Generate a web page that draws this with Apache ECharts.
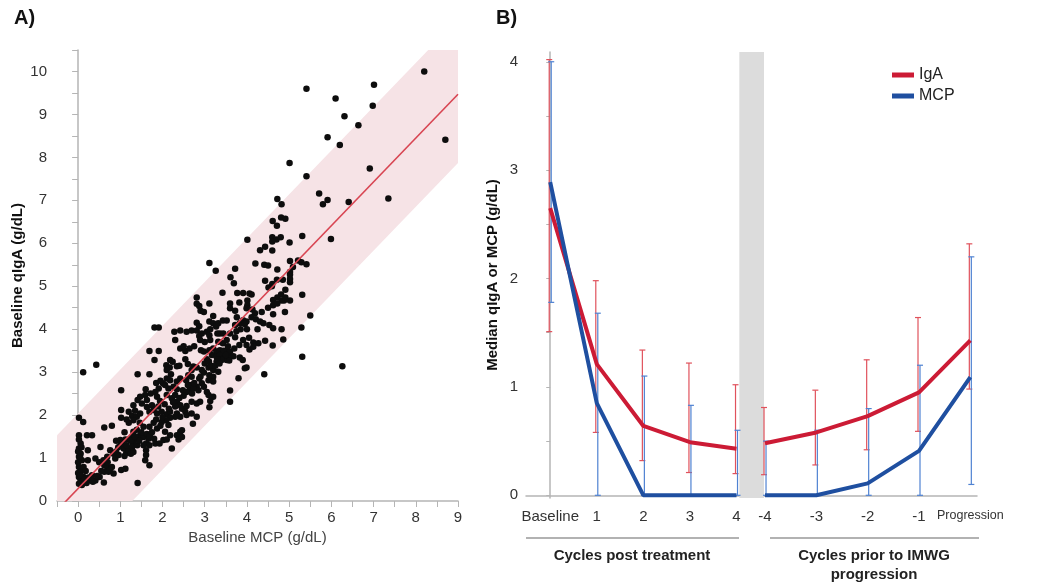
<!DOCTYPE html>
<html><head><meta charset="utf-8">
<script src="https://cdn.jsdelivr.net/npm/echarts@6/dist/echarts.min.js"></script>
<style>html,body{margin:0;padding:0;background:#fff}#c{width:1057px;height:585px}</style>
</head><body><div id="c"></div>
<script>
// Panel A: [baseline MCP, baseline qIgA] pairs (g/dL)
const scatterPoints = [
[8.20,10.0],[5.41,9.6],[7.01,9.69],[6.98,9.2],[6.10,9.37],[6.31,8.96],[6.64,8.75],[5.91,8.47],[6.20,8.29],[8.70,8.41],[5.01,7.87],[6.91,7.74],[5.41,7.56],[5.71,7.16],[5.80,6.91],[5.91,7.01],[6.41,6.96],[7.35,7.04],[5.99,6.10],[4.72,7.03],[4.82,6.91],[4.61,6.52],[4.81,6.60],[4.91,6.57],[4.71,6.41],[4.60,6.14],[4.70,6.09],[4.80,6.14],[4.60,6.04],[5.01,6.02],[5.31,6.17],[4.01,6.08],[4.31,5.84],[4.43,5.92],[4.60,5.83],[3.11,5.54],[3.26,5.36],[4.20,5.53],[4.41,5.50],[4.50,5.48],[4.72,5.39],[5.02,5.59],[5.21,5.60],[5.41,5.51],[5.29,5.56],[5.09,5.45],[5.02,5.33],[5.02,5.27],[5.02,5.17],[3.72,5.41],[3.61,5.21],[3.69,5.07],[4.43,5.13],[4.71,5.15],[4.85,5.15],[5.02,5.09],[4.51,4.97],[4.59,5.00],[4.91,4.92],[4.60,5.05],
[3.42,4.85],[3.77,4.84],[3.91,4.84],[4.06,4.83],[4.11,4.81],[4.81,4.81],[5.31,4.80],[2.81,4.74],[4.01,4.67],[4.72,4.74],[4.88,4.67],[4.62,4.68],[4.82,4.67],[4.91,4.74],[5.02,4.67],
[2.81,4.59],[2.87,4.54],[2.90,4.43],[2.98,4.40],[3.11,4.60],[3.60,4.60],[3.82,4.62],[4.01,4.56],[3.99,4.49],[3.60,4.49],[3.72,4.43],[4.13,4.46],[4.19,4.37],[4.90,4.40],[4.62,4.35],[4.62,4.56],[4.72,4.60],[5.50,4.32],[3.20,4.31],[3.11,4.18],[3.20,4.14],[3.32,4.14],[3.43,4.20],[3.52,4.20],[3.76,4.28],[3.91,4.21],[4.11,4.28],[3.99,4.18],[4.21,4.23],[3.72,4.10],[3.83,4.14],[3.95,4.12],[4.31,4.18],[4.39,4.14],[4.53,4.10],[4.62,4.02],[4.82,4.00],[5.29,4.04],[1.81,4.04],[1.91,4.04],[2.81,4.15],[2.87,4.07],[2.28,3.94],[2.42,3.97],[2.57,3.94],[2.69,3.97],[2.81,3.97],[2.93,3.90],[3.05,3.94],[3.13,4.00],[3.27,4.06],
[2.30,3.75],[2.87,3.84],[2.89,3.75],[3.11,3.86],[3.13,3.75],[3.36,3.90],[3.44,3.90],[3.32,3.71],[3.43,3.67],[3.52,3.75],[3.60,3.90],[3.72,3.81],[3.91,3.75],[3.82,3.63],[3.99,3.63],[4.15,3.69],[4.27,3.67],[4.43,3.73],[4.61,3.62],[4.06,3.53],[4.15,3.59],[4.86,3.76],[2.42,3.55],[2.54,3.49],[2.64,3.55],[2.91,3.51],[2.98,3.48],[3.11,3.51],[3.20,3.55],[3.28,3.48],[3.36,3.51],[3.44,3.45],[3.52,3.50],[3.60,3.48],[3.17,3.40],[3.28,3.36],[3.36,3.40],[3.44,3.32],[3.52,3.28],[3.60,3.36],[3.68,3.37],[3.28,3.24],[3.40,3.28],[3.58,3.27],[3.83,3.34],[3.90,3.28],[3.99,3.11],[3.95,3.09],[1.69,3.49],[1.91,3.49],[1.81,3.28],[2.18,3.28],[2.24,3.24],[2.34,3.14],[2.17,3.11],[2.54,3.30],[2.60,3.19],[2.73,3.13],[2.69,3.05],[2.81,3.11],[2.93,3.05],[2.98,2.99],[3.09,3.11],[3.20,3.05],[3.32,3.01],[2.09,3.16],[2.10,3.05],[1.69,2.95],[1.41,2.95],[0.12,3.00],[0.43,3.17],[4.41,2.95],[5.31,3.36],[6.26,3.14],[3.80,2.86],[3.11,2.93],[3.20,2.89],[3.09,2.81],[3.20,2.78],[2.87,2.85],[2.93,2.74],[2.61,2.93],[2.69,2.89],[2.56,2.81],[2.42,2.85],[2.34,2.78],[2.10,2.85],[2.18,2.81],[2.01,2.74],
[2.81,2.66],[2.85,2.58],[2.98,2.66],[3.05,2.54],[3.09,2.47],[3.20,2.43],[3.13,2.33],[3.11,2.18],[3.60,2.57],[3.60,2.31],[2.65,2.70],[2.64,2.58],[2.73,2.62],[2.48,2.58],[2.57,2.54],[2.26,2.66],[2.34,2.60],[2.14,2.62],[2.06,2.70],[1.91,2.62],[1.83,2.54],[1.72,2.50],[1.59,2.47],[1.47,2.43],[1.63,2.35],[1.02,2.58],[1.87,2.43],[1.94,2.33],[2.10,2.47],[2.22,2.39],[2.30,2.47],[2.34,2.31],[2.42,2.23],[2.46,2.15],[2.57,2.21],[2.54,2.08],[2.69,2.31],[2.81,2.27],[2.89,2.31],[2.34,2.04],[2.42,1.96],[2.30,1.96],[2.57,2.00],[2.69,2.04],[2.81,1.96],[2.72,1.80],[1.41,2.35],[1.31,2.23],[1.51,2.27],[1.63,2.19],[1.75,2.23],[1.69,2.08],[1.79,2.12],[1.87,2.04],[1.98,2.08],[2.10,2.02],[2.18,2.08],[2.18,1.94],[2.09,1.88],[1.98,1.84],[2.14,1.77],[1.02,2.12],[1.02,1.94],[1.20,2.08],[1.28,1.98],[1.39,1.96],[1.47,2.04],[1.20,1.82],[1.31,1.88],[1.46,1.82],[0.80,1.75],[0.62,1.71],[1.79,1.82],[1.69,1.73],[1.87,1.69],[1.55,1.73],[1.39,1.66],[1.31,1.61],[0.02,1.94],[0.12,1.84],
[0.21,1.53],[0.33,1.53],[0.02,1.53],[0.02,1.43],[0.06,1.34],[0.02,1.22],[0.06,1.10],[0.02,1.03],[0.09,0.95],[0.02,0.79],[0.06,0.68],[0.02,0.56],[0.06,0.48],[0.02,0.40],[0.09,0.37],[0.13,0.79],[0.13,0.56],[0.23,1.18],[0.23,0.95],[0.41,0.99],[0.33,0.60],[0.41,0.48],[0.29,0.48],[0.53,1.26],[0.51,0.56],[0.61,0.43],[0.69,1.03],[0.67,0.91],[0.62,0.83],[0.69,0.79],[0.80,0.79],[0.62,0.68],[0.72,0.68],[0.84,0.64],[0.76,1.18],[0.84,1.10],[0.88,0.99],[0.96,1.07],[1.00,1.30],[1.08,1.22],[1.14,1.12],[1.00,1.42],[1.12,1.43],[1.02,0.72],[1.12,0.75],[1.20,1.43],[1.28,1.49],[1.39,1.43],[1.30,1.34],[1.20,1.18],[1.25,1.10],[1.31,1.14],[1.28,1.26],[1.41,0.42],[1.47,1.53],[1.55,1.49],[1.63,1.56],[1.67,1.45],[1.61,1.34],[1.69,1.30],[1.61,1.18],[1.61,1.07],[1.59,0.95],[1.69,0.83],[1.83,1.34],[1.93,1.34],[2.02,1.42],[2.10,1.43],[2.22,1.22],[2.06,1.61],[2.18,1.53],[2.34,1.53],[2.42,1.61],[2.46,1.65],[2.38,1.43],[2.46,1.49],
[0.05,1.00],[0.00,0.90],[0.00,0.65],[0.05,0.60],[0.10,0.45],[0.00,1.15],[0.08,1.25],[0.15,0.50],[0.18,0.70],[0.20,0.42],[0.25,0.55],[0.35,0.45],[0.45,0.58],[0.50,0.90],[0.55,0.70],[0.60,0.95],[0.70,0.90],[0.75,0.72],[0.90,1.15],[0.95,1.25],[1.05,1.35],[1.10,1.05],[1.15,1.30],[1.25,1.40],[1.35,1.50],[1.40,1.30],[1.45,1.40],[1.50,1.60],[1.55,1.30],[1.70,1.50],[1.75,1.60],[1.80,1.45],[1.85,1.90],[1.90,2.20],[1.95,1.75],[2.00,1.95],[2.05,2.25],[2.15,2.15],[2.25,2.30],[2.30,2.20],[2.40,2.40],[2.50,2.45],[2.60,2.70],[2.70,2.50],[2.75,2.75],[2.90,2.90],[3.00,3.20],[3.05,3.30],[3.10,3.25],[3.15,3.15],[3.25,3.15],[3.30,3.30],[3.35,3.20],[3.45,3.50],[3.50,3.40],[3.55,3.60],[3.70,3.55],[3.75,3.95],[3.85,4.00],[4.00,4.00],[4.05,3.80],[4.25,4.00],[4.35,4.40],[4.50,4.50],[3.30,3.90],[3.00,3.70],[2.75,3.60],[2.50,3.60],[2.40,3.15],[2.20,2.95],[1.95,2.80],[1.85,2.75],[1.60,2.60],[1.35,2.10],[1.15,1.90],[1.10,1.60],[0.90,1.40]
];
// Panel A fit line and shaded band
const fitX = [-0.5, 9];
const fitY = [-0.22, 9.47];
const bandLow = [-1.82, 7.87];
const bandHigh = [1.53, 11.22];

// Panel B
const postLabels = ['Baseline','1','2','3','4'];
const postPos = [0,1,2,3,4];
const priorLabels = ['-4','-3','-2','-1','Progression'];
const priorPos = [-4,-3,-2,-1,0];
const igaPost = [2.65,1.21,0.64,0.49,0.43];
const igaPostLow = [1.51,0.58,0.32,0.21,0.20];
const igaPostHigh = [4.02,1.98,1.34,1.22,1.02];
const mcpPost = [2.89,0.85,0,0,0];
const mcpPostLow = [1.78,0,0,0,0];
const mcpPostHigh = [4.00,1.68,1.10,0.83,0.60];
const igaPrior = [0.48,0.58,0.73,0.95,1.43];
const igaPriorLow = [0.19,0.28,0.42,0.59,0.98];
const igaPriorHigh = [0.81,0.97,1.25,1.64,2.32];
const mcpPrior = [0,0,0.11,0.41,1.09];
const mcpPriorLow = [0,0,0,0,0.10];
const mcpPriorHigh = [0.50,0.60,0.80,1.20,2.20];
const yTicksA = [0,1,2,3,4,5,6,7,8,9,10];
const xTicksA = [0,1,2,3,4,5,6,7,8,9];
const yTicksB = [0,1,2,3,4];
const yMinorB = [0,0.5,1,1.5,2,2.5,3,3.5,4];

const FONT = 'Arial, "Liberation Sans", sans-serif';
const RED = '#cc1b35', BLUE = '#1f4fa0', RED_E = '#e0525c', BLUE_E = '#4f82d2';
const AX = '#b5b5b5';

function errSeries(xi, pos, lo, hi, color, dx) {
  return {
    type: 'custom', xAxisIndex: xi, yAxisIndex: xi, z: 2, silent: true,
    data: pos.map((p, i) => [p, lo[i], hi[i]]),
    encode: {x: 0, y: [1, 2]},
    renderItem(params, api) {
      const a = api.coord([api.value(0), api.value(1)]);
      const b = api.coord([api.value(0), api.value(2)]);
      const x = a[0] + dx, w = 3;
      const st = {stroke: color, lineWidth: 1.2};
      return {type: 'group', children: [
        {type: 'line', shape: {x1: x, y1: a[1], x2: x, y2: b[1]}, style: st},
        {type: 'line', shape: {x1: x - w, y1: a[1], x2: x + w, y2: a[1]}, style: st},
        {type: 'line', shape: {x1: x - w, y1: b[1], x2: x + w, y2: b[1]}, style: st}
      ]};
    }
  };
}
function lineSeries(name, xi, pos, vals, color, extra) {
  return Object.assign({
    name, type: 'line', xAxisIndex: xi, yAxisIndex: xi, z: 4,
    data: pos.map((p, i) => [p, vals[i]]),
    symbol: 'none', lineStyle: {color, width: 4}, itemStyle: {color},
    silent: true, animation: false
  }, extra || {});
}

const chart = echarts.init(document.getElementById('c'));
chart.setOption({
  animation: false,
  textStyle: {fontFamily: FONT},
  grid: [
    {left: 57, right: 599, top: 50, bottom: 84},
    {left: 526, right: 293, top: 52, bottom: 87},
    {left: 764, right: 80, top: 52, bottom: 87}
  ],
  xAxis: [
    {gridIndex: 0, type: 'value', min: -0.5, max: 9, interval: 0.5,
     name: 'Baseline MCP (g/dL)', nameLocation: 'middle', nameGap: 29,
     nameTextStyle: {fontSize: 15, color: '#444'},
     axisLine: {lineStyle: {color: AX, width: 1.5}}, splitLine: {show: false},
     axisTick: {lineStyle: {color: AX}, length: 6},
     axisLabel: {fontSize: 15, color: '#333', margin: 9,
       formatter: v => xTicksA.includes(v) ? String(v) : ''}},
    {gridIndex: 1, type: 'value', min: -0.52, max: 4.59,
     axisLine: {lineStyle: {color: AX, width: 1.5}}, splitLine: {show: false},
     axisTick: {show: false},
     axisLabel: {customValues: postPos, fontSize: 15, color: '#333', margin: 11,
       formatter: v => postLabels[postPos.indexOf(v)]}},
    {gridIndex: 2, type: 'value', min: -4.02, max: 0.13,
     axisLine: {lineStyle: {color: AX, width: 1.5}}, splitLine: {show: false},
     axisTick: {show: false},
     axisLabel: {customValues: priorPos, fontSize: 15, color: '#333', margin: 11, showMaxLabel: true,
       formatter: v => v === 0 ? '{p|' + priorLabels[4] + '}' : priorLabels[priorPos.indexOf(v)],
       rich: {p: {fontSize: 12.5, color: '#333', fontFamily: FONT}}}}
  ],
  yAxis: [
    {gridIndex: 0, type: 'value', min: 0, max: 10.5, interval: 0.5,
     name: 'Baseline qIgA (g/dL)', nameLocation: 'middle', nameGap: 32,
     nameTextStyle: {fontSize: 15, fontWeight: 'bold', color: '#111'},
     axisLine: {show: true, lineStyle: {color: AX, width: 1.5}}, splitLine: {show: false},
     axisTick: {show: true, lineStyle: {color: AX}, length: 6},
     axisLabel: {fontSize: 15, color: '#333', margin: 10,
       formatter: v => yTicksA.includes(v) ? String(v) : ''}},
    {gridIndex: 1, type: 'value', min: -0.025, max: 4.09,
     name: 'Median qIgA or MCP (g/dL)', nameLocation: 'middle', nameGap: 26,
     nameTextStyle: {fontSize: 15, fontWeight: 'bold', color: '#111'},
     axisLine: {show: true, lineStyle: {color: AX, width: 1.5}}, splitLine: {show: false},
     axisTick: {show: true, customValues: yMinorB, lineStyle: {color: AX}, length: 4},
     axisLabel: {customValues: yTicksB, fontSize: 15, color: '#333', margin: 8}},
    {gridIndex: 2, type: 'value', min: -0.025, max: 4.09, show: false}
  ],
  legend: {
    data: ['IgA', 'MCP'], orient: 'vertical', left: 887, top: 62,
    icon: 'rect', itemWidth: 22, itemHeight: 5, itemGap: 5,
    textStyle: {fontSize: 16, color: '#222', fontFamily: FONT}
  },
  series: [
    {type: 'custom', xAxisIndex: 0, yAxisIndex: 0, silent: true, z: 1,
     data: [[fitX[0], bandLow[0], bandHigh[0]]],
     encode: {x: 0, y: [1, 2]},
     renderItem(params, api) {
       const pts = [];
       fitX.forEach((x, i) => pts.push(api.coord([x, bandLow[i]])));
       for (let i = fitX.length - 1; i >= 0; i--) pts.push(api.coord([fitX[i], bandHigh[i]]));
       const cs = params.coordSys;
       return {type: 'polygon', shape: {points: pts}, style: {fill: '#f6e3e6'},
         clipPath: {type: 'rect', shape: {x: cs.x, y: cs.y, width: cs.width, height: cs.height}}};
     }},
    {type: 'scatter', xAxisIndex: 0, yAxisIndex: 0, data: scatterPoints, symbolSize: 6.5,
     itemStyle: {color: '#0d0d0d', opacity: 1}, silent: true, z: 2},
    {type: 'line', xAxisIndex: 0, yAxisIndex: 0, symbol: 'none', silent: true,
     data: fitX.map((x, i) => [x, fitY[i]]), lineStyle: {color: '#d84552', width: 1.6}, z: 3},

    errSeries(1, postPos, igaPostLow, igaPostHigh, RED_E, -1),
    errSeries(1, postPos, mcpPostLow, mcpPostHigh, BLUE_E, 1),
    errSeries(2, priorPos, igaPriorLow, igaPriorHigh, RED_E, -1),
    errSeries(2, priorPos, mcpPriorLow, mcpPriorHigh, BLUE_E, 1),
    lineSeries('IgA', 1, postPos, igaPost, RED, {
      markArea: {silent: true, itemStyle: {color: '#dcdcdc'}, data: [[{xAxis: 4.06}, {xAxis: 4.59}]]}
    }),
    lineSeries('MCP', 1, postPos, mcpPost, BLUE),
    lineSeries('IgA', 2, priorPos, igaPrior, RED),
    lineSeries('MCP', 2, priorPos, mcpPrior, BLUE)
  ],
  graphic: [
    {type: 'text', left: 14, top: 8, style: {text: 'A)', font: 'bold 20px ' + FONT, fill: '#111'}},
    {type: 'text', left: 496, top: 8, style: {text: 'B)', font: 'bold 20px ' + FONT, fill: '#111'}},
    {type: 'line', shape: {x1: 526, y1: 538, x2: 739, y2: 538}, style: {stroke: '#999', lineWidth: 1.5}},
    {type: 'line', shape: {x1: 770, y1: 538, x2: 979, y2: 538}, style: {stroke: '#999', lineWidth: 1.5}},
    {type: 'text', x: 632, y: 556, style: {text: 'Cycles post treatment', font: 'bold 15px ' + FONT, fill: '#222', align: 'center', verticalAlign: 'middle'}},
    {type: 'text', x: 874, y: 565, style: {text: 'Cycles prior to IMWG\nprogression', font: 'bold 15px ' + FONT, fill: '#222', align: 'center', verticalAlign: 'middle', lineHeight: 19}}
  ]
});
</script>
</body></html>
